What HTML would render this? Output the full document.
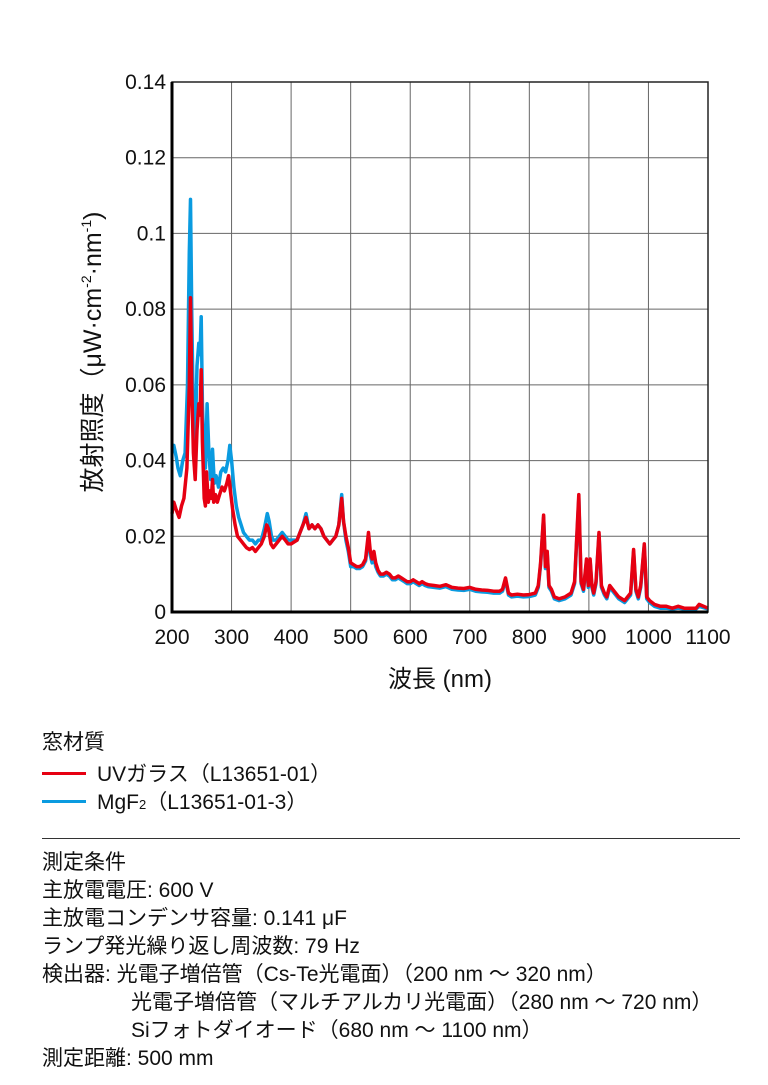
<!DOCTYPE html>
<html><head><meta charset="utf-8"><style>
body{margin:0;background:#fff;width:768px;height:1085px;overflow:hidden;font-family:"Liberation Sans","Noto Sans CJK JP",sans-serif;}
svg text{font-family:"Liberation Sans","Noto Sans CJK JP",sans-serif;fill:#111;}
.t{position:absolute;left:42px;font-size:21px;color:#111;white-space:nowrap;line-height:1;}
</style></head><body>
<svg id="chart" width="768" height="720" style="position:absolute;left:0;top:0">
<g id="grid"></g>
<g id="series"></g>
<g id="axes"></g>
<text x="440" y="687" font-size="24" text-anchor="middle">波長 (nm)</text>
<text transform="translate(101,352) rotate(-90)" font-size="25" text-anchor="middle">放射照度（μW·cm<tspan font-size="14" dy="-10">-2</tspan><tspan dy="10">·nm</tspan><tspan font-size="14" dy="-10">-1</tspan><tspan dy="10">)</tspan></text>
</svg>
<div class="t" style="top:732px">窓材質</div>
<div style="position:absolute;left:42px;top:772px;width:44px;height:3px;background:#e60012"></div>
<div class="t" style="top:764px;left:97px">UVガラス（L13651-01）</div>
<div style="position:absolute;left:42px;top:800px;width:44px;height:3px;background:#0a9be0"></div>
<div class="t" style="top:792px;left:97px">MgF<span style="font-size:13px">2</span>（L13651-01-3）</div>
<div style="position:absolute;left:42px;top:838px;width:698px;height:1px;background:#333"></div>
<div class="t" style="top:852px">測定条件</div>
<div class="t" style="top:880px">主放電電圧: 600 V</div>
<div class="t" style="top:908px">主放電コンデンサ容量: 0.141 μF</div>
<div class="t" style="top:936px">ランプ発光繰り返し周波数: 79 Hz</div>
<div class="t" style="top:964px">検出器: 光電子増倍管（Cs-Te光電面）（200 nm 〜 320 nm）</div>
<div class="t" style="top:992px;left:131px">光電子増倍管（マルチアルカリ光電面）（280 nm 〜 720 nm）</div>
<div class="t" style="top:1020px;left:131px">Siフォトダイオード（680 nm 〜 1100 nm）</div>
<div class="t" style="top:1048px">測定距離: 500 mm</div>
<script>
const xTicks=[200,300,400,500,600,700,800,900,1000,1100];
const yTicks=[0,0.02,0.04,0.06,0.08,0.1,0.12,0.14];
const yTickLabels=["0","0.02","0.04","0.06","0.08","0.1","0.12","0.14"];
const uvWl=[200,203,207,212,216,220,225,229,231,233,236,239,242,245,247,249,251,254,256,258,261,264,266,268,270,273,276,280,284,288,292,295,298,302,306,310,315,320,325,330,335,340,345,350,355,359,362,366,370,375,380,385,390,395,400,405,410,415,420,425,430,435,440,445,450,455,460,465,470,475,480,485,488,492,496,500,505,510,515,520,525,530,533,536,539,542,546,550,555,560,565,570,575,580,585,590,595,600,605,610,615,620,625,630,640,650,660,670,680,690,700,710,720,730,740,750,755,760,765,770,780,790,800,810,815,819,824,827,830,833,837,842,850,860,870,876,883,887,891,896,899,902,905,908,912,917,921,926,930,935,940,950,960,965,970,975,979,983,987,993,997,1002,1010,1020,1030,1040,1050,1060,1070,1080,1085,1100];
const uvVal=[0.026,0.029,0.027,0.025,0.028,0.030,0.038,0.060,0.083,0.060,0.042,0.035,0.048,0.055,0.052,0.064,0.045,0.030,0.028,0.037,0.029,0.032,0.030,0.035,0.029,0.031,0.029,0.031,0.033,0.032,0.034,0.036,0.032,0.027,0.023,0.020,0.019,0.018,0.017,0.0165,0.017,0.016,0.017,0.018,0.020,0.023,0.022,0.018,0.017,0.018,0.019,0.020,0.019,0.018,0.018,0.0185,0.019,0.021,0.023,0.025,0.022,0.023,0.022,0.023,0.022,0.020,0.019,0.018,0.019,0.020,0.023,0.030,0.024,0.020,0.017,0.013,0.0125,0.012,0.012,0.0125,0.014,0.021,0.016,0.014,0.016,0.013,0.011,0.010,0.010,0.0105,0.010,0.009,0.009,0.0095,0.009,0.0085,0.008,0.008,0.0085,0.008,0.0075,0.008,0.0075,0.0072,0.007,0.0068,0.0072,0.0065,0.0063,0.0062,0.0065,0.006,0.0058,0.0057,0.0055,0.0055,0.006,0.009,0.005,0.0045,0.0047,0.0045,0.0046,0.005,0.007,0.013,0.0256,0.012,0.016,0.007,0.006,0.004,0.0035,0.004,0.005,0.008,0.031,0.008,0.006,0.014,0.007,0.014,0.007,0.005,0.008,0.021,0.007,0.005,0.004,0.007,0.006,0.004,0.003,0.004,0.005,0.0165,0.006,0.004,0.007,0.018,0.004,0.003,0.002,0.0015,0.0015,0.001,0.0015,0.001,0.001,0.001,0.002,0.001,0.0003];
const mgWl=[200,203,207,210,214,218,222,226,229,231,233,236,239,242,245,247,249,251,254,256,259,262,265,268,271,274,278,282,286,290,294,297,300,304,308,312,316,320,325,330,335,340,345,350,355,360,363,367,370,375,380,385,390,395,400,405,410,415,420,425,430,435,440,445,450,455,460,465,470,475,480,485,488,492,496,500,505,510,515,520,525,530,533,536,539,542,546,550,555,560,565,570,575,580,585,590,595,600,605,610,615,620,625,630,640,650,660,670,680,690,700,710,720,730,740,750,755,760,765,770,780,790,800,810,815,819,824,827,830,833,837,842,850,860,870,876,883,887,891,896,899,902,905,908,912,917,921,926,930,935,940,950,960,965,970,975,979,983,987,993,997,1002,1010,1020,1030,1040,1050,1060,1070,1080,1085,1100];
const mgVal=[0.044,0.044,0.041,0.038,0.036,0.040,0.042,0.060,0.095,0.109,0.080,0.050,0.045,0.065,0.071,0.068,0.078,0.055,0.040,0.038,0.055,0.042,0.035,0.043,0.034,0.036,0.033,0.037,0.038,0.037,0.040,0.044,0.040,0.033,0.028,0.025,0.023,0.021,0.020,0.019,0.019,0.018,0.019,0.019,0.022,0.026,0.024,0.020,0.019,0.019,0.020,0.021,0.020,0.019,0.019,0.019,0.019,0.021,0.023,0.026,0.022,0.023,0.022,0.023,0.022,0.020,0.019,0.018,0.019,0.020,0.023,0.031,0.024,0.019,0.016,0.012,0.012,0.0115,0.0115,0.012,0.0135,0.020,0.015,0.013,0.015,0.012,0.0105,0.0095,0.0095,0.010,0.0095,0.0085,0.0085,0.009,0.0085,0.008,0.0075,0.0075,0.008,0.0075,0.007,0.0075,0.007,0.0067,0.0065,0.0063,0.0067,0.006,0.0058,0.0057,0.006,0.0055,0.0053,0.0052,0.005,0.005,0.0055,0.0085,0.0045,0.004,0.0042,0.004,0.0041,0.0045,0.0065,0.0125,0.025,0.0115,0.0155,0.0065,0.0055,0.0035,0.003,0.0035,0.0045,0.0075,0.030,0.0075,0.0055,0.0135,0.0065,0.0135,0.0065,0.0045,0.0075,0.0205,0.0065,0.0045,0.0035,0.0065,0.0055,0.0035,0.0025,0.0035,0.0045,0.016,0.0055,0.0035,0.0065,0.0175,0.0035,0.0025,0.0015,0.001,0.001,0.0008,0.001,0.0008,0.0008,0.0008,0.0015,0.0008,0.0002];
const NS='http://www.w3.org/2000/svg';
const X0=172,X1=708,Y0=612,Y1=82;
const xs=v=>X0+(v-200)/900*(X1-X0);
const ys=v=>Y0-v/0.14*(Y0-Y1);
function mk(tag,attrs,parent){const e=document.createElementNS(NS,tag);for(const k in attrs)e.setAttribute(k,attrs[k]);parent.appendChild(e);return e;}
const grid=document.getElementById('grid'),axes=document.getElementById('axes'),series=document.getElementById('series');
xTicks.forEach((t,i)=>{
 const l=mk('line',{x1:xs(t),x2:xs(t),y1:Y1,y2:Y0,stroke:'#666','stroke-width':1},grid);
 
 
 const tx=mk('text',{x:xs(t),y:644,'font-size':21,'text-anchor':'middle'},axes);
 tx.textContent=t;
 
 
});
yTicks.forEach((t,i)=>{
 const l=mk('line',{x1:X0,x2:X1,y1:ys(t),y2:ys(t),stroke:'#666','stroke-width':1},grid);
 
 
 const tx=mk('text',{x:166,y:ys(t)+7,'font-size':21,'text-anchor':'end'},axes);
 tx.textContent=yTickLabels[i];
 
 
});
const fr=mk('rect',{x:X0,y:Y1,width:X1-X0,height:Y0-Y1,fill:'none',stroke:'#222','stroke-width':1.5},axes);


const ax=mk('polyline',{points:`${X0},${Y1} ${X0},${Y0} ${X1},${Y0}`,fill:'none',stroke:'#000','stroke-width':3},axes);


function line(wl,val,color,name){
 const p=wl.map((w,i)=>xs(w).toFixed(1)+','+ys(val[i]).toFixed(1)).join(' ');
 const pl=mk('polyline',{points:p,fill:'none',stroke:color,'stroke-width':3.5,'stroke-linejoin':'round'},series);
 
 
}
line(mgWl,mgVal,'#0a9be0','mgf2-series');
line(uvWl,uvVal,'#e60012','uv-glass-series');
</script>
</body></html>
